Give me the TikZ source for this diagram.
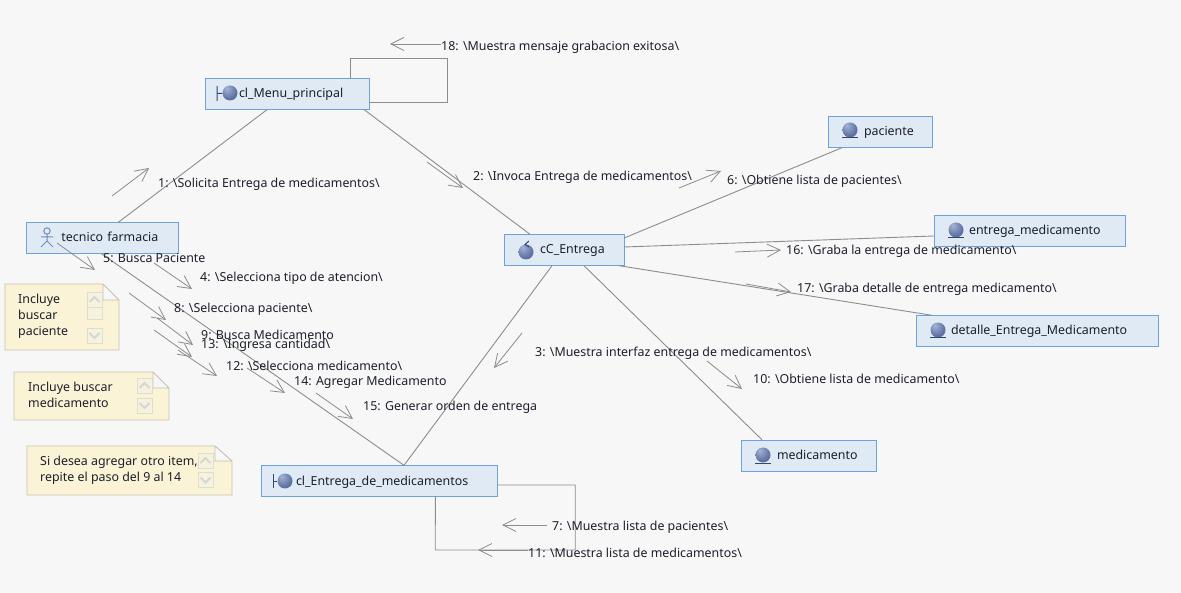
\documentclass[tikz,border=0pt]{standalone}
\usepackage{fontspec}
\setmainfont{Noto Sans}
\usepackage{tikz}
\usetikzlibrary{arrows.meta,positioning,calc}
\definecolor{sheetgray}{RGB}{247,247,247}
\definecolor{boxfill}{RGB}{224,234,245}
\definecolor{boxline}{RGB}{110,162,218}
\definecolor{linkgray}{RGB}{140,140,140}
\definecolor{inkdark}{RGB}{28,32,44}
\definecolor{notefill}{RGB}{250,243,214}
\definecolor{noteline}{RGB}{196,193,178}
\definecolor{btnfill}{RGB}{246,242,224}
\definecolor{btnline}{RGB}{224,221,205}
\definecolor{chevgray}{RGB}{214,214,208}
\definecolor{ballhi}{RGB}{165,180,214}
\definecolor{ballblue}{RGB}{98,116,165}
\definecolor{balldark}{RGB}{58,74,120}
\definecolor{iconblue}{RGB}{110,140,190}
\definecolor{bardark}{RGB}{50,70,115}
\pgfdeclareradialshading{iconball}{\pgfpoint{-12bp}{16bp}}{color(0bp)=(ballhi); color(28bp)=(ballblue); color(62bp)=(balldark); color(80bp)=(balldark)}

\begin{document}
\begin{tikzpicture}[x=1pt,y=-1pt,
 box/.style={draw=boxline,fill=boxfill,inner xsep=0pt,inner ysep=0pt,minimum height=31pt,text height=10pt,text depth=2pt,align=left,font=\fontsize{12.4}{14}\selectfont,text=inkdark},
 link/.style={draw=linkgray,line width=0.9pt},
 msg/.style={draw=linkgray,line width=0.8pt,-{Straight Barb[length=13pt,width=13pt,line width=0.8pt]}},
 txt/.style={anchor=west,inner sep=0pt,yshift=-1.5pt,font=\fontsize{12.4}{14}\selectfont,text=inkdark},
 notetxt/.style={anchor=west,inner sep=0pt,yshift=-1pt,align=left,font=\fontsize{12.4}{16}\selectfont,text=inkdark},
 sheet/.style={draw=noteline,fill=notefill,line width=0.9pt},
 ball/.style={circle,inner sep=0pt,minimum size=15pt,shading=iconball},
 upbtn/.pic={\draw[draw=btnline,fill=btnfill] (-7.5,-7.5) rectangle (7.5,7.5);
  \draw[chevgray,line width=1.8pt] (-5,2.5)--(0,-2.5)--(5,2.5);},
 downbtn/.pic={\draw[draw=btnline,fill=btnfill] (-7.5,-7.5) rectangle (7.5,7.5);
  \draw[chevgray,line width=1.8pt] (-5,-2.5)--(0,2.5)--(5,-2.5);}]
\path[fill=sheetgray,use as bounding box] (0,0) rectangle (1181,593);
% boxes
\node[box,text width=164pt] (menu) at (287,94) {\hspace*{34pt}cl\_Menu\_principal};
\node[box,text width=152pt] (tecnico) at (102.5,238) {\hspace*{35pt}tecnico farmacia};
\node[box,text width=120pt] (ctrl) at (564,250) {\hspace*{36pt}cC\_Entrega};
\node[box,text width=104pt] (paciente) at (880,132) {\hspace*{36pt}paciente};
\node[box,text width=191pt] (entregamed) at (1029.5,231) {\hspace*{35pt}entrega\_medicamento};
\node[box,text width=242pt] (detalle) at (1037,331) {\hspace*{35pt}detalle\_Entrega\_Medicamento};
\node[box,text width=135pt] (medic) at (808.5,455.5) {\hspace*{36pt}medicamento};
\node[box,text width=236pt] (form) at (379,481) {\hspace*{35pt}cl\_Entrega\_de\_medicamentos};
% icons
\node[ball] (menuball) at (230,93) {};
\draw[bardark,line width=1pt] (217,86)--(217,101) (217,93.5)--(menuball);
\node[ball] (formball) at (285,481) {};
\draw[bardark,line width=1pt] (273,474)--(273,488) (273,481)--(formball);
\node[ball] (ctrlball) at (526,252) {};
\draw[bardark,line width=1pt] (529,241)--(525,244.5)--(529,247);
\node[ball] (pacball) at (850,130) {};
\draw[bardark,line width=1pt] (842,138)--(858,138);
\node[ball] (entball) at (956,230) {};
\draw[bardark,line width=1pt] (948,238)--(964,238);
\node[ball] (detball) at (938,330) {};
\draw[bardark,line width=1pt] (930,338)--(946,338);
\node[ball] (medball) at (763,455) {};
\draw[bardark,line width=1pt] (755,463)--(771,463);
\draw[iconblue,line width=1pt] (47,231) circle (3.2);
\draw[iconblue,line width=1pt] (47,234.5)--(47,241) (41,237)--(53,237) (41,247)--(47,241)--(53,247);
% associations
\draw[link] ([xshift=92pt]tecnico.north west) -- ([xshift=-20pt]menu.south);
\draw[link] ([xshift=-5pt]menu.south east) -- ([xshift=-34pt]ctrl.north);
\draw[link] ([yshift=12pt]ctrl.east) -- ([xshift=-38pt]paciente.south);
\draw[link] ([yshift=3pt]ctrl.east) -- ([yshift=-5pt]entregamed.west);
\draw[link] ([xshift=-5pt]ctrl.south east) -- ([xshift=-105pt]detalle.north);
\draw[link] ([xshift=20pt]ctrl.south) -- ([xshift=-46.5pt]medic.north);
\draw[link] ([xshift=-12pt]ctrl.south) -- ([xshift=25pt]form.north);
\draw[link] ([xshift=-1pt]tecnico.south) -- ([xshift=25pt]form.north);
\draw[link] ([xshift=-19pt]menu.north east) -- ++(0,-20) -- ++(97,0) -- ++(0,44) -- ([yshift=-8.3pt]menu.east);
\draw[link] ([yshift=-4pt]form.east) -- ++(78,0) -- ++(0,65) -- ++(-140,0) -- ([xshift=56.4pt]form.south);
% message arrows
\coordinate (a18) at (441,44); \coordinate (b18) at (390,44); \draw[msg] (a18)--(b18);
\coordinate (a1) at (112,196); \coordinate (b1) at (149,168); \draw[msg] (a1)--(b1);
\coordinate (a2) at (427,162); \coordinate (b2) at (463,188); \draw[msg] (a2)--(b2);
\coordinate (a6) at (679,188); \coordinate (b6) at (721,171); \draw[msg] (a6)--(b6);
\coordinate (a16) at (735,252); \coordinate (b16) at (781,250); \draw[msg] (a16)--(b16);
\coordinate (a17) at (746,284); \coordinate (b17) at (791,292); \draw[msg] (a17)--(b17);
\coordinate (a3) at (522,333); \coordinate (b3) at (494,368); \draw[msg] (a3)--(b3);
\coordinate (a10) at (707,361); \coordinate (b10) at (742,389); \draw[msg] (a10)--(b10);
\coordinate (a7) at (547,525); \coordinate (b7) at (502,525); \draw[msg] (a7)--(b7);
\coordinate (a11) at (528,550); \coordinate (b11) at (478,550); \draw[msg] (a11)--(b11);
\coordinate (a5) at (57,243); \coordinate (b5) at (95,270); \draw[msg] (a5)--(b5);
\coordinate (a4) at (154,263); \coordinate (b4) at (192,289); \draw[msg] (a4)--(b4);
\coordinate (a8) at (129,293); \coordinate (b8) at (166,320); \draw[msg] (a8)--(b8);
\coordinate (a9) at (157,318); \coordinate (b9) at (193,345); \draw[msg] (a9)--(b9);
\coordinate (a13) at (154,330); \coordinate (b13) at (192,357); \draw[msg] (a13)--(b13);
\coordinate (a12) at (178,350); \coordinate (b12) at (217,376); \draw[msg] (a12)--(b12);
\coordinate (a14) at (247,368); \coordinate (b14) at (285,393); \draw[msg] (a14)--(b14);
\coordinate (a15) at (316,393); \coordinate (b15) at (353,419); \draw[msg] (a15)--(b15);
% message labels
\node[txt] (t18) at (441,46) {18: \textbackslash Muestra mensaje grabacion exitosa\textbackslash};
\node[txt] (t1) at (158,183) {1: \textbackslash Solicita Entrega de medicamentos\textbackslash};
\node[txt] (t2) at (473,176) {2: \textbackslash Invoca Entrega de medicamentos\textbackslash};
\node[txt] (t6) at (727,180) {6: \textbackslash Obtiene lista de pacientes\textbackslash};
\node[txt] (t16) at (786,250) {16: \textbackslash Graba la entrega de medicamento\textbackslash};
\node[txt] (t17) at (797,288) {17: \textbackslash Graba detalle de entrega medicamento\textbackslash};
\node[txt] (t3) at (535,352) {3: \textbackslash Muestra interfaz entrega de medicamentos\textbackslash};
\node[txt] (t10) at (753,377) {10: \textbackslash Obtiene lista de medicamento\textbackslash};
\node[txt] (t7) at (552,526) {7: \textbackslash Muestra lista de pacientes\textbackslash};
\node[txt] (t11) at (528,551) {11: \textbackslash Muestra lista de medicamentos\textbackslash};
\node[txt] (t5) at (103,257) {5: Busca Paciente};
\node[txt] (t4) at (200,277) {4: \textbackslash Selecciona tipo de atencion\textbackslash};
\node[txt] (t8) at (174,308) {8: \textbackslash Selecciona paciente\textbackslash};
\node[txt] (t9) at (201,333) {9: Busca Medicamento};
\node[txt] (t13) at (201,344) {13: \textbackslash Ingresa cantidad\textbackslash};
\node[txt] (t12) at (226,364) {12: \textbackslash Selecciona medicamento\textbackslash};
\node[txt] (t14) at (294,381) {14: Agregar Medicamento};
\node[txt] (t15) at (363,406) {15: Generar orden de entrega};
% notes
\draw[sheet] (5,284)--(103,284)--(119,300)--(119,350)--(5,350)--cycle (103,284)--(103,300)--(119,300);
\draw[sheet] (14,372)--(153,372)--(169,388)--(169,420)--(14,420)--cycle (153,372)--(153,388)--(169,388);
\draw[sheet] (27,446)--(215,446)--(232,461)--(232,495)--(27,495)--cycle (215,446)--(215,461)--(232,461);
\node[notetxt] (noteA) at (18,315) {Incluye\\buscar\\paciente};
\node[notetxt] (noteB) at (28,394) {Incluye buscar\\medicamento};
\node[notetxt] (noteC) at (40,469) {Si desea agregar otro item,\\repite el paso del 9 al 14};
\pic at (94.5,299.5) {upbtn};
\draw[draw=btnline,fill=btnfill] (87,307) rectangle (102,319);
\pic at (94.5,335.5) {downbtn};
\pic at (144.5,385.5) {upbtn};
\pic at (144.5,405.5) {downbtn};
\pic at (205.5,460.5) {upbtn};
\pic at (205.5,480) {downbtn};
\end{tikzpicture}
\end{document}
